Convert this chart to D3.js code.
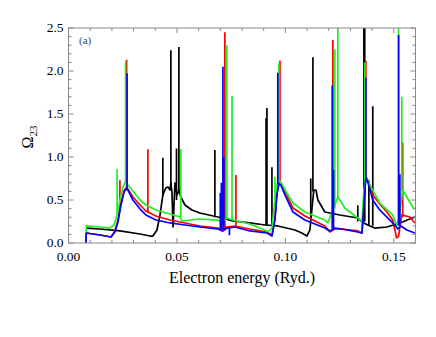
<!DOCTYPE html>
<html>
<head>
<meta charset="utf-8">
<script src="https://cdn.jsdelivr.net/npm/d3@7"></script>
<style>
  body { margin: 0; background: #fff; }
  text { font-family: "Liberation Serif", "Times New Roman", serif; }
</style>
</head>
<body>
<div id="chart"></div>
<script>
// collision strength Omega_23 vs electron energy, four calculations

const xTicks = [0.00, 0.05, 0.10, 0.15];
const yTicks = [0.0, 0.5, 1.0, 1.5, 2.0, 2.5];

// smooth backgrounds [energy, omega]
const blackLine = [
  [0.0082, 0.174], [0.0145, 0.163], [0.0237, 0.14], [0.033, 0.105], [0.0376, 0.081],
  [0.0389, 0.081], [0.0408, 0.151], [0.0422, 0.326], [0.0435, 0.558], [0.0449, 0.64],
  [0.0459, 0.651], [0.0468, 0.616], [0.0472, 0.70], [0.0477, 0.593], [0.0482, 0.186],
  [0.0491, 0.698], [0.05, 0.558], [0.0509, 0.616], [0.0518, 0.535], [0.0537, 0.442],
  [0.0569, 0.384], [0.0606, 0.349], [0.0689, 0.302], [0.0758, 0.256], [0.0836, 0.233],
  [0.0906, 0.209], [0.0965, 0.198], [0.1044, 0.151], [0.1076, 0.116], [0.1099, 0.081],
  [0.1113, 0.151], [0.1122, 0.384], [0.1131, 0.616], [0.1141, 0.616], [0.115, 0.5],
  [0.1182, 0.36], [0.1251, 0.326], [0.1334, 0.291], [0.1353, 0.244], [0.138, 0.209],
  [0.1412, 0.174], [0.1468, 0.186], [0.1528, 0.233], [0.1597, 0.302]
];

const redLine = [
  [0.00806, 0], [0.0082, 0.116], [0.0145, 0.093], [0.0196, 0.07], [0.0214, 0.14],
  [0.0228, 0.267], [0.0242, 0.465], [0.0256, 0.605], [0.0265, 0.64], [0.0274, 0.628],
  [0.0297, 0.535], [0.033, 0.442], [0.0357, 0.372], [0.0403, 0.314], [0.0468, 0.267],
  [0.0537, 0.233], [0.0606, 0.198], [0.0689, 0.174], [0.0707, 0.14], [0.073, 0.186],
  [0.0767, 0.198], [0.0836, 0.163], [0.0915, 0.128], [0.0938, 0.093], [0.0952, 0.29],
  [0.0961, 0.581], [0.097, 0.709], [0.0979, 0.698], [0.0998, 0.593], [0.1035, 0.407],
  [0.109, 0.314], [0.1182, 0.198], [0.1205, 0.128], [0.1228, 0.163], [0.126, 0.163],
  [0.1334, 0.14], [0.1353, 0.116], [0.1362, 0.465], [0.1371, 0.779], [0.138, 0.733],
  [0.1403, 0.558], [0.1435, 0.453], [0.1468, 0.36], [0.1495, 0.267], [0.1513, 0.058],
  [0.1522, 0.081], [0.1537, 0.326], [0.1574, 0.302], [0.1597, 0.233]
];

const greenLine = [
  [0.00806, 0], [0.0082, 0.198], [0.0145, 0.186], [0.0191, 0.174], [0.021, 0.209],
  [0.0224, 0.326], [0.0237, 0.5], [0.0251, 0.651], [0.026, 0.698], [0.027, 0.686],
  [0.0297, 0.605], [0.033, 0.5], [0.0357, 0.442], [0.0403, 0.384], [0.0468, 0.337],
  [0.0514, 0.302], [0.0523, 0.256], [0.0606, 0.279], [0.0689, 0.267], [0.0707, 0.244],
  [0.073, 0.291], [0.0758, 0.267], [0.0836, 0.221], [0.0906, 0.151], [0.092, 0.128],
  [0.0938, 0.174], [0.0952, 0.5], [0.0961, 0.674], [0.097, 0.733], [0.0984, 0.686],
  [0.1007, 0.581], [0.1035, 0.465], [0.109, 0.36], [0.1182, 0.267], [0.1196, 0.233],
  [0.1219, 0.384], [0.1242, 0.535], [0.1274, 0.407], [0.1334, 0.291], [0.1353, 0.244],
  [0.1362, 0.616], [0.1371, 0.779], [0.139, 0.674], [0.1435, 0.465], [0.1495, 0.326],
  [0.1513, 0.209], [0.1522, 0.267], [0.1541, 0.616], [0.1587, 0.419], [0.1597, 0.395]
];

const blueLine = [
  [0.00806, 0], [0.0082, 0.116], [0.0145, 0.093], [0.0196, 0.07], [0.0214, 0.128],
  [0.0228, 0.244], [0.0242, 0.442], [0.0256, 0.593], [0.0265, 0.628], [0.0274, 0.616],
  [0.0297, 0.5], [0.033, 0.395], [0.0357, 0.326], [0.0403, 0.267], [0.0468, 0.233],
  [0.0537, 0.209], [0.0606, 0.186], [0.0689, 0.163], [0.0712, 0.14], [0.073, 0.174],
  [0.0767, 0.186], [0.0836, 0.14], [0.0915, 0.116], [0.0938, 0.081], [0.0952, 0.267],
  [0.0961, 0.558], [0.097, 0.686], [0.0979, 0.674], [0.0998, 0.558], [0.1035, 0.36],
  [0.109, 0.267], [0.1182, 0.174], [0.1205, 0.14], [0.1228, 0.174], [0.126, 0.163],
  [0.1334, 0.128], [0.1353, 0.116], [0.1362, 0.442], [0.1371, 0.756], [0.138, 0.709],
  [0.1403, 0.5], [0.1435, 0.384], [0.1468, 0.302], [0.1505, 0.209], [0.1518, 0.163],
  [0.1533, 0.198], [0.156, 0.151], [0.1597, 0.116]
];

// narrow resonances [energy, omega low, omega high]
const blackSpikes = [
  [0.0435, 0.55, 0.99], [0.0472, 0.65, 2.24], [0.0498, 0.5, 1.10], [0.0509, 0.6, 2.28],
  [0.0675, 0.30, 1.08], [0.0911, 0.21, 1.45], [0.0915, 0.21, 1.57], [0.0938, 0.2, 0.88],
  [0.1117, 0.3, 0.75], [0.1127, 0.6, 2.16], [0.1334, 0.25, 0.44], [0.1362, 0.25, 2.6],
  [0.1366, 0.25, 2.6], [0.1385, 0.2, 0.73], [0.1403, 0.2, 1.59]
];
const redSpikes = [
  [0.0237, 0.4, 0.73], [0.0268, 0.64, 2.13], [0.0366, 0.35, 1.09], [0.0721, 0.18, 2.45],
  [0.0772, 0.2, 0.79], [0.0975, 0.7, 2.12], [0.1219, 0.2, 2.36], [0.1371, 0.78, 2.12],
  [0.1541, 0.3, 1.17]
];
const greenSpikes = [
  [0.0224, 0.33, 0.86], [0.0263, 0.7, 2.11], [0.0518, 0.3, 1.09], [0.073, 0.29, 2.30],
  [0.0754, 0.27, 1.71], [0.0952, 0.5, 0.77], [0.097, 0.73, 2.09], [0.1228, 0.4, 2.25],
  [0.1242, 0.53, 2.6], [0.1366, 0.7, 2.10], [0.1522, 0.27, 2.6], [0.1537, 0.6, 1.70]
];
const blueSpikes = [
  [0.027, 0.62, 1.97], [0.0700, 0.16, 0.58], [0.0705, 0.16, 0.70], [0.0712, 0.14, 2.05],
  [0.0716, 0.15, 1.00], [0.0742, 0.09, 0.18], [0.0965, 0.68, 1.98], [0.1216, 0.17, 1.83],
  [0.1222, 0.17, 0.85], [0.1371, 0.76, 1.92], [0.1522, 0.2, 2.42], [0.1528, 0.2, 0.80]
];

const series = [
  { line: blackLine, spikes: blackSpikes, color: "#000000" },
  { line: redLine, spikes: redSpikes, color: "#ff0000" },
  { line: greenLine, spikes: greenSpikes, color: "#22ee22" },
  { line: blueLine, spikes: blueSpikes, color: "#0000ff" }
];

const W = 436, H = 337;
const margin = { top: 28, right: 20.5, bottom: 94, left: 68.5 };
const width = W - margin.left - margin.right;
const height = H - margin.top - margin.bottom;

const svg = d3.select("#chart").append("svg")
  .attr("width", W)
  .attr("height", H);

const g = svg.append("g")
  .attr("transform", `translate(${margin.left},${margin.top})`);

const x = d3.scaleLinear().domain([0, 0.16]).range([0, width]);
const y = d3.scaleLinear().domain([0, 2.5]).range([height, 0]);

g.append("clipPath").attr("id", "clip")
  .append("rect").attr("width", width).attr("height", height);

const plot = g.append("g").attr("clip-path", "url(#clip)");

const line = d3.line().x(d => x(d[0])).y(d => y(d[1]));

series.forEach(s => {
  plot.append("path")
    .datum(s.line)
    .attr("d", line)
    .attr("fill", "none")
    .attr("stroke", s.color)
    .attr("stroke-width", 1.7)
    .attr("stroke-linejoin", "round");
  plot.selectAll(null)
    .data(s.spikes)
    .enter().append("line")
    .attr("x1", d => x(d[0])).attr("x2", d => x(d[0]))
    .attr("y1", d => y(d[1])).attr("y2", d => y(d[2]))
    .attr("stroke", s.color)
    .attr("stroke-width", 1.7);
});

// frame and inward ticks
const frameColor = "#888";
g.append("rect")
  .attr("width", width).attr("height", height)
  .attr("fill", "none").attr("stroke", frameColor).attr("stroke-width", 1);

const xMinor = d3.range(0, 0.1601, 0.01);
const yMinor = d3.range(0, 2.501, 0.1);

xMinor.forEach(v => {
  const major = Math.abs(v / 0.05 - Math.round(v / 0.05)) < 1e-6;
  const len = major ? 5 : 3;
  g.append("line").attr("x1", x(v)).attr("x2", x(v))
    .attr("y1", height).attr("y2", height - len)
    .attr("stroke", frameColor);
  g.append("line").attr("x1", x(v)).attr("x2", x(v))
    .attr("y1", 0).attr("y2", len)
    .attr("stroke", frameColor);
});
yMinor.forEach(v => {
  const major = Math.abs(v / 0.5 - Math.round(v / 0.5)) < 1e-6;
  const len = major ? 5 : 3;
  g.append("line").attr("y1", y(v)).attr("y2", y(v))
    .attr("x1", 0).attr("x2", len)
    .attr("stroke", frameColor);
  g.append("line").attr("y1", y(v)).attr("y2", y(v))
    .attr("x1", width).attr("x2", width - len)
    .attr("stroke", frameColor);
});

g.selectAll(".xl").data(xTicks).enter().append("text")
  .attr("x", d => x(d)).attr("y", height + 18)
  .attr("text-anchor", "middle")
  .attr("font-size", 13.5)
  .text(d => d.toFixed(2));

g.selectAll(".yl").data(yTicks).enter().append("text")
  .attr("x", -5).attr("y", d => y(d) + 3.5)
  .attr("text-anchor", "end")
  .attr("font-size", 13.5)
  .text(d => d.toFixed(1));

svg.append("text")
  .attr("x", margin.left + x(0.08)).attr("y", 283)
  .attr("text-anchor", "middle")
  .attr("font-size", 16)
  .text("Electron energy (Ryd.)");

const yl = svg.append("text")
  .attr("transform", "translate(33,137) rotate(-90)")
  .attr("text-anchor", "middle")
  .attr("font-size", 16);
yl.append("tspan").text("Ω");
yl.append("tspan").attr("font-size", 11).attr("dy", 4).text("23");

svg.append("text")
  .attr("x", 79).attr("y", 44)
  .attr("font-size", 11)
  .attr("fill", "#334466")
  .text("(a)");
</script>
</body>
</html>
